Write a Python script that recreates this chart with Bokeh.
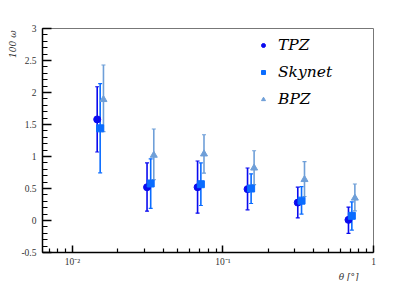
from bokeh.plotting import figure
from bokeh.models import (FixedTicker, Whisker, TeeHead, ColumnDataSource, Legend,
                          LegendItem, Title, Range1d)
from bokeh.embed import file_html
from bokeh.resources import INLINE

# ---- data ----
series_names = ["TPZ", "Skynet", "BPZ"]
tpz_theta = [0.0146, 0.0313, 0.0678, 0.1456, 0.314, 0.682]
tpz_val = [1.58, 0.52, 0.52, 0.49, 0.28, 0.01]
tpz_lo = [1.07, 0.145, 0.114, 0.167, 0.04, -0.20]
tpz_hi = [2.09, 0.90, 0.93, 0.82, 0.52, 0.21]

sky_theta = [0.01528, 0.0331, 0.0713, 0.1538, 0.3326, 0.718]
sky_val = [1.44, 0.578, 0.567, 0.50, 0.31, 0.073]
sky_lo = [0.745, 0.19, 0.234, 0.266, 0.10, -0.15]
sky_hi = [2.14, 0.964, 0.90, 0.73, 0.53, 0.29]

bpz_theta = [0.01607, 0.0347, 0.0748, 0.161, 0.348, 0.752]
bpz_val = [1.89, 1.02, 1.04, 0.82, 0.64, 0.35]
bpz_lo = [1.39, 0.64, 0.74, 0.56, 0.375, 0.15]
bpz_hi = [2.43, 1.43, 1.34, 1.09, 0.92, 0.57]

y_ticks = [-0.5, 0, 0.5, 1, 1.5, 2, 2.5, 3]
y_tick_labels = ["-0.5", "0", "0.5", "1", "1.5", "2", "2.5", "3"]
x_ticks = [0.01, 0.1, 1.0]
x_tick_labels = ["10\u207b\u00b2", "10\u207b\u00b9", "1"]

colors = ["#0a0aef", "#0a6cff", "#6f9fd8"]
markers = ["circle", "square", "triangle"]
msizes = [7, 7, 7]

FONT = "DejaVu Serif"
FONT2 = "Liberation Serif"

p = figure(width=415, height=281, x_axis_type="log", output_backend="svg",
           toolbar_location=None, x_range=Range1d(10 ** -2.199, 1.0),
           y_range=Range1d(-0.5, 3.0),
           min_border_left=42, min_border_right=42, min_border_top=28,
           min_border_bottom=29)
p.background_fill_color = "white"
p.border_fill_color = "white"
p.grid.visible = False
p.outline_line_color = "#777777"
p.outline_line_width = 1

# ticks
minor_x = []
for d in [0.001, 0.01, 0.1]:
    for k in range(2, 10):
        minor_x.append(k * d)
p.xaxis.ticker = FixedTicker(ticks=x_ticks, minor_ticks=minor_x)
p.xaxis.major_label_overrides = {t: l for t, l in zip(x_ticks, x_tick_labels)}
minor_y = [round(-0.5 + 0.1 * i, 2) for i in range(36)]
p.yaxis.ticker = FixedTicker(ticks=y_ticks, minor_ticks=minor_y)
p.yaxis.major_label_overrides = {t: l for t, l in zip(y_ticks, y_tick_labels)}

for ax, mj, mn in [(p.xaxis, 7, 4), (p.yaxis, 9, 5)]:
    ax.major_tick_in = mj
    ax.major_tick_out = 0
    ax.minor_tick_in = mn
    ax.minor_tick_out = 0
    ax.axis_line_width = 1.5
    ax.axis_line_color = "black"
    ax.major_tick_line_width = 1.5
    ax.minor_tick_line_width = 1.2
    ax.major_label_text_font = FONT2
    ax.major_label_text_font_style = "normal"
    ax.major_label_text_font_size = "9.5px"
    ax.major_label_text_color = "#333333"
p.yaxis.major_label_standoff = 6
p.xaxis.major_label_standoff = 4

items = []
datasets = [(tpz_theta, tpz_val, tpz_lo, tpz_hi),
            (sky_theta, sky_val, sky_lo, sky_hi),
            (bpz_theta, bpz_val, bpz_lo, bpz_hi)]
for name, (xs, ys, lo, hi), c, m, s in zip(series_names, datasets, colors, markers, msizes):
    src = ColumnDataSource(dict(x=xs, y=ys, lo=lo, hi=hi))
    w = Whisker(source=src, base="x", lower="lo", upper="hi", dimension="height",
                line_color=c, line_width=1.6,
                upper_head=TeeHead(size=4, line_color=c, line_width=1.2),
                lower_head=TeeHead(size=4, line_color=c, line_width=1.2))
    p.add_layout(w)
    r = p.scatter("x", "y", source=src, marker=m, size=s, fill_color=c, line_color=c)
    items.append(LegendItem(label=name, renderers=[r]))

legend = Legend(items=items, location=(216, 143), padding=0, margin=0,
                glyph_width=10, glyph_height=20, label_height=20, spacing=7,
                label_standoff=10, border_line_color=None, background_fill_alpha=0,
                label_text_font=FONT, label_text_font_style="italic",
                label_text_font_size="15.5px", label_text_color="black")
p.add_layout(legend)

ytitle = Title(text="100 \u03c9", align="right", standoff=2, offset=2,
               text_font=FONT, text_font_style="italic", text_font_size="9px",
               text_color="#333333")
xtitle = Title(text="\u03b8 [\u00b0]", align="right", standoff=0, offset=15,
               text_font=FONT, text_font_style="italic", text_font_size="9px",
               text_color="#333333", text_line_height=0.9)
p.add_layout(ytitle, "left")
p.add_layout(xtitle, "below")

open("out.html", "w").write(file_html(p, INLINE))
